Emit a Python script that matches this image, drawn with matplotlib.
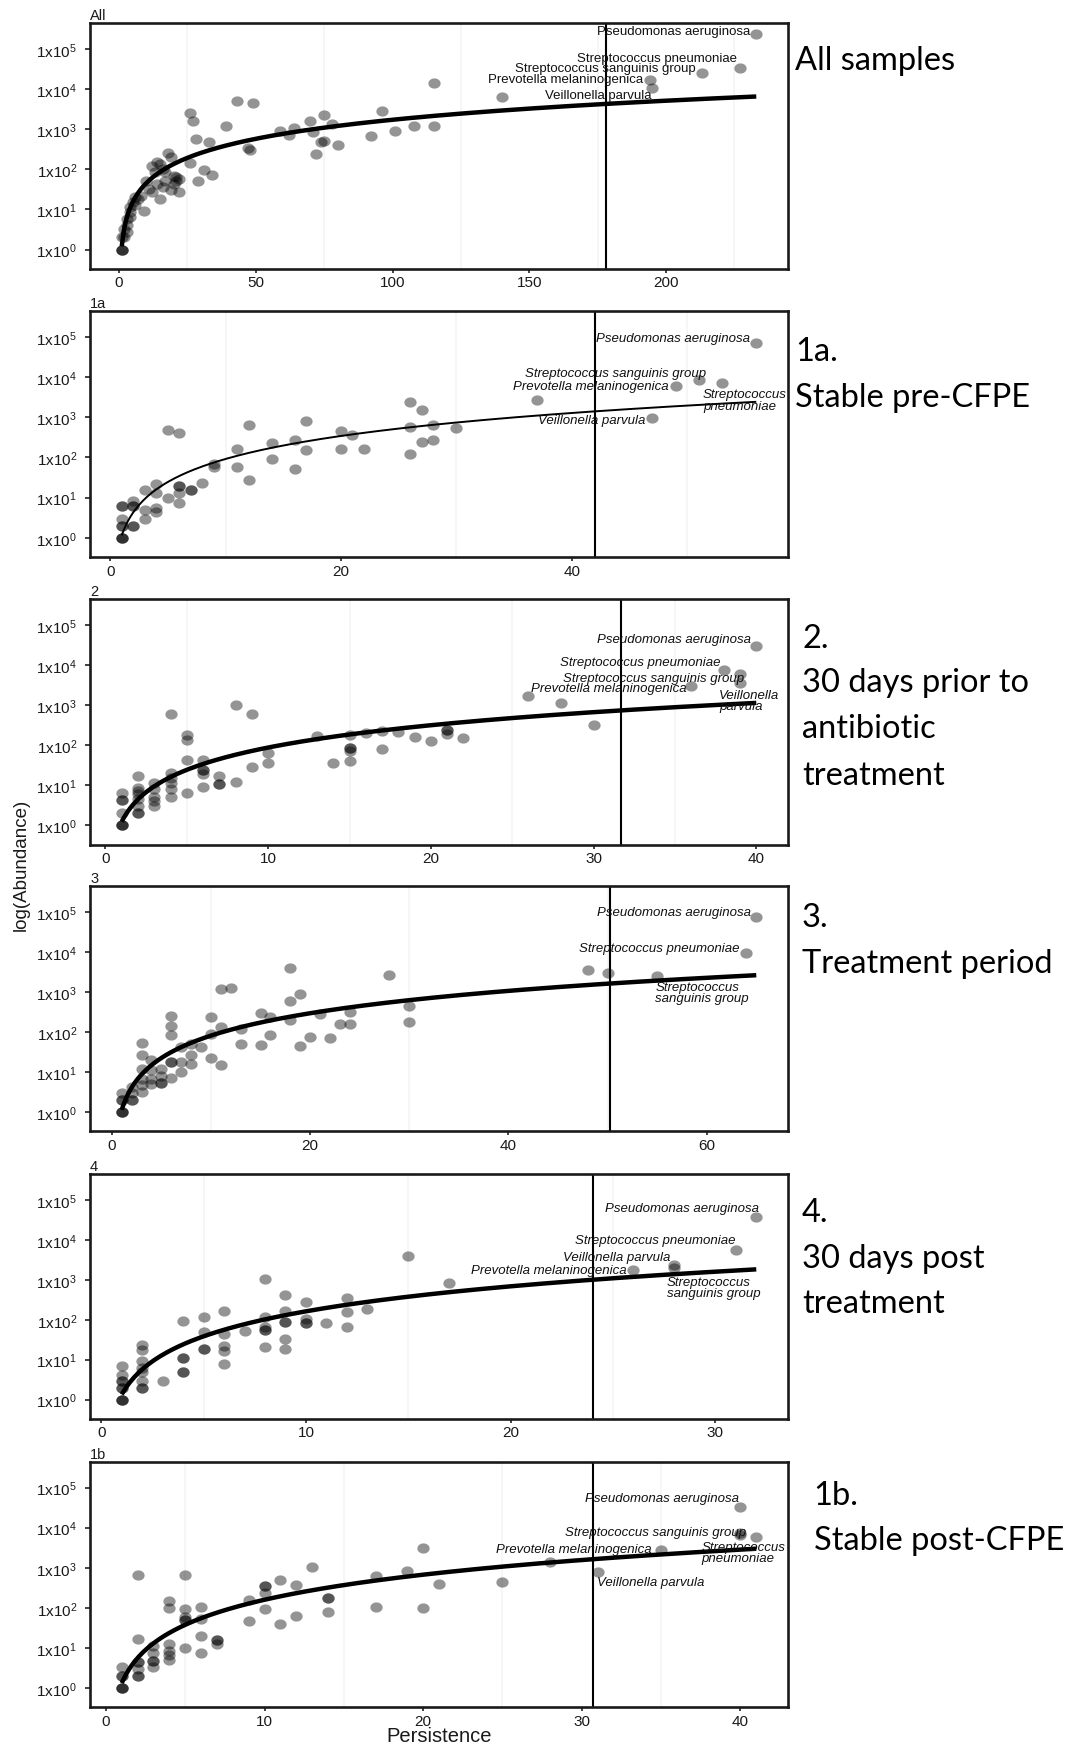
import numpy as np
import matplotlib
matplotlib.use("Agg")
import matplotlib.pyplot as plt
from matplotlib.path import Path
from matplotlib.ticker import FixedLocator, FuncFormatter, MultipleLocator, NullLocator

# persistence (x) vs abundance (y), one pair of lists per sampling period
all_x = [1, 1, 1, 1, 2, 2, 3, 3, 3, 4, 4, 4, 5, 6, 6, 7, 8, 9, 10, 11, 12, 12, 13, 14, 14, 15, 15,
         16, 16, 17, 17, 18, 19, 19, 20, 20, 21, 21, 22, 22, 26, 26, 27, 28, 29, 31, 33, 34, 39, 43,
         47, 48, 49, 59, 62, 64, 70, 71, 72, 74, 75, 75, 78, 80, 92, 96, 101, 108, 115, 115, 140,
         194, 195, 213, 227, 233]
all_y = [1, 1, 1, 2, 3.3, 2, 5.8, 4, 2.7, 8.5, 6.4, 11.4, 15, 12.6, 20, 18, 22, 9.4, 52, 33, 27, 124,
         85, 43, 150, 18, 135, 36, 102, 85, 52, 260, 31, 210, 70, 43, 50, 63, 58, 28, 2500, 145, 1600,
         580, 50, 99, 475, 73, 1200, 5200, 345, 300, 4500, 930, 720, 1070, 1650, 870, 245, 475, 2300,
         525, 1360, 415, 700, 2950, 930, 1200, 14000, 1200, 6300, 17000, 10500, 25500, 35000, 247000]

p1a_x = [1, 1, 1, 1, 1, 1, 1, 1, 2, 2, 2, 2, 2, 3, 3, 3, 4, 4, 4, 4, 5, 5, 6, 6, 6, 6, 6, 7, 7, 8,
         9, 9, 11, 11, 12, 12, 14, 14, 16, 16, 17, 17, 20, 20, 21, 22, 26, 26, 26, 27, 27, 28, 28,
         30, 37, 47, 49, 51, 53, 56]
p1a_y = [1, 1, 1, 2, 2, 3, 6, 6, 2, 2, 6, 6, 8, 3, 5, 15, 4.4, 5.6, 13, 22, 10, 475, 7.5, 13, 19.5,
         19.5, 400, 15.5, 15.5, 23, 56, 67, 56, 166, 28, 630, 90, 225, 52, 275, 150, 795, 160, 455,
         355, 166, 120, 575, 2400, 235, 1520, 275, 630, 535, 2650, 930, 5850, 8500, 7100, 69000]

p2_x = [1, 1, 1, 1, 1, 1, 1, 2, 2, 2, 2, 2, 2, 2, 2, 3, 3, 3, 3, 3, 4, 4, 4, 4, 4, 4, 5, 5, 5, 5,
        6, 6, 6, 6, 6, 7, 7, 7, 8, 8, 9, 9, 10, 10, 13, 14, 15, 15, 15, 15, 15, 16, 17, 17, 18, 19,
        20, 21, 21, 21, 22, 26, 28, 30, 36, 38, 39, 39, 40]
p2_y = [1, 1, 1, 2, 4.2, 4.2, 6.2, 2, 2, 3, 4.6, 5.9, 7, 8.5, 17, 3, 4, 5.2, 7.8, 11.5, 5.2, 7.8,
        11.5, 15, 20, 605, 6.2, 43, 136, 175, 9, 19, 24, 24, 43, 10.8, 10.8, 17, 12, 980, 28, 585,
        35, 63, 165, 35, 41, 73, 85, 85, 175, 205, 80, 225, 208, 160, 124, 190, 240, 240, 151, 1700,
        1120, 325, 2950, 7600, 3530, 5800, 29000]

p3_x = [1, 1, 1, 1, 1, 1, 2, 2, 2, 2, 3, 3, 3, 3, 3, 3, 4, 4, 4, 4, 5, 5, 5, 5, 6, 6, 6, 6, 6, 6,
        7, 7, 7, 8, 8, 8, 9, 10, 10, 10, 11, 11, 11, 12, 13, 13, 15, 15, 16, 16, 18, 18, 18, 19, 19,
        20, 21, 22, 23, 24, 24, 28, 30, 30, 48, 50, 55, 64, 65]
p3_y = [1, 1, 1, 2, 2, 3, 2, 2, 2.9, 4.2, 3.2, 4.6, 6.8, 12, 27, 52, 5.1, 6.8, 11, 19.5, 5.4, 5.4,
        8, 12, 7, 18, 18, 85, 145, 245, 10, 18, 43, 16, 26, 50, 42, 22.5, 90, 240, 15, 132, 1180,
        1260, 49, 120, 46, 295, 85, 235, 195, 595, 4100, 45, 890, 77, 280, 70, 160, 160, 310, 2700,
        180, 440, 3600, 2970, 2550, 9750, 76000]

p4_x = [1, 1, 1, 1, 1, 1, 1, 1, 1, 2, 2, 2, 2, 2, 2, 2, 2, 3, 4, 4, 4, 4, 4, 5, 5, 5, 5, 6, 6, 6,
        6, 6, 7, 8, 8, 8, 8, 8, 8, 9, 9, 9, 9, 9, 9, 10, 10, 10, 10, 11, 12, 12, 12, 13, 15, 17, 26,
        28, 28, 31, 32]
p4_y = [1, 1, 1, 2, 2, 3, 3, 4.1, 7, 2, 2, 3, 4.9, 6.2, 9.5, 17, 23, 3, 5, 5, 11, 11, 95, 18, 18,
        49, 120, 8, 16, 22, 43, 170, 51, 21, 56, 56, 65, 120, 1020, 19, 33, 90, 90, 170, 415, 83, 83,
        105, 283, 83, 65, 160, 345, 186, 3850, 830, 1740, 1950, 2350, 5600, 38000]

p1b_x = [1, 1, 1, 1, 1, 1, 2, 2, 2, 2, 2, 2, 2, 3, 3, 3, 3, 3, 4, 4, 4, 4, 4, 4, 5, 5, 5, 5, 5, 5,
         6, 6, 6, 6, 7, 7, 7, 9, 9, 10, 10, 10, 10, 11, 11, 12, 12, 13, 14, 14, 14, 17, 17, 19, 20,
         20, 21, 25, 28, 31, 35, 40, 40, 40, 41]
p1b_y = [1, 1, 1, 2, 2, 3.3, 2, 2, 3, 4.4, 4.4, 16.6, 670, 3.3, 4.8, 4.8, 7.4, 11.4, 5, 6.5, 8.5,
         12.6, 97, 150, 10, 50, 50, 58, 93, 670, 7.3, 19.5, 53, 102, 12.5, 16, 16, 46, 160, 93, 230,
         355, 355, 40, 490, 63, 370, 1040, 80, 173, 173, 102, 620, 830, 100, 3030, 390, 435, 1360,
         760, 2750, 6500, 7300, 32000, 5700]

# power-law fits: log10(y) = a + b * log10(x)
all_fit = (0.08, 1.58)
p1a_fit = (0.06, 1.90)
p2_fit = (0.09, 1.85)
p3_fit = (0.05, 1.86)
p4_fit = (0.13, 2.08)
p1b_fit = (0.12, 2.08)

# persistence cut-off (vertical line)
cutoffs = [178.1, 42.0, 31.7, 50.2, 24.0, 30.7]

PA = "Pseudomonas aeruginosa"
SP = "Streptococcus pneumoniae"
SS = "Streptococcus sanguinis group"
PM = "Prevotella melaninogenica"
VP = "Veillonella parvula"

plt.rcParams["font.family"] = ["Liberation Sans", "DejaVu Sans"]
plt.rcParams["mathtext.fontset"] = "custom"
plt.rcParams["mathtext.rm"] = "Liberation Sans"

W, H = 1080, 1749
fig = plt.figure(figsize=(W / 100, H / 100), dpi=100)

# dots in the source are a bit wider than tall
t = np.linspace(0, 2 * np.pi, 50)
dot = Path(np.column_stack([1.2 * np.cos(t), np.sin(t)]), closed=True)

# label placement in axes fraction: (name, u, v, ha, two_lines)
panels = [
    dict(title="All", x=all_x, y=all_y, fit=all_fit, step=50, lw=3.2, box=(24.3, 270), italic=False,
         labels=[(PA, 0.946, 0.970, "right", False), (SP, 0.927, 0.859, "right", False),
                 (SS, 0.867, 0.818, "right", False), (PM, 0.792, 0.773, "right", False),
                 (VP, 0.804, 0.709, "right", False)]),
    dict(title="1a", x=p1a_x, y=p1a_y, fit=p1a_fit, step=20, lw=1.4, box=(311.7, 558.3), italic=True,
         labels=[(PA, 0.946, 0.888, "right", False), (SS, 0.883, 0.746, "right", False),
                 (PM, 0.829, 0.696, "right", False), (SP, 0.878, 0.638, "left", True),
                 (VP, 0.796, 0.557, "right", False)]),
    dict(title="2", x=p2_x, y=p2_y, fit=p2_fit, step=10, lw=3.2, box=(600, 845.7), italic=True,
         labels=[(PA, 0.947, 0.837, "right", False), (SP, 0.904, 0.742, "right", False),
                 (SS, 0.937, 0.677, "right", False), (PM, 0.855, 0.638, "right", False),
                 (VP, 0.901, 0.586, "left", True)]),
    dict(title="3", x=p3_x, y=p3_y, fit=p3_fit, step=20, lw=3.2, box=(887.3, 1132.3), italic=True,
         labels=[(PA, 0.947, 0.896, "right", False), (SP, 0.931, 0.747, "right", False),
                 (SS, 0.810, 0.566, "left", True)]),
    dict(title="4", x=p4_x, y=p4_y, fit=p4_fit, step=10, lw=3.2, box=(1175, 1420), italic=True,
         labels=[(PA, 0.958, 0.861, "right", False), (SP, 0.925, 0.729, "right", False),
                 (VP, 0.831, 0.661, "right", False), (PM, 0.769, 0.609, "right", False),
                 (SS, 0.826, 0.537, "left", True)]),
    dict(title="1b", x=p1b_x, y=p1b_y, fit=p1b_fit, step=10, lw=3.2, box=(1462.7, 1708.3), italic=True,
         labels=[(PA, 0.930, 0.851, "right", False), (SS, 0.940, 0.715, "right", False),
                 (PM, 0.805, 0.645, "right", False), (SP, 0.876, 0.631, "left", True),
                 (VP, 0.727, 0.511, "left", False)]),
]


def sci(v, pos):
    return r"$\mathregular{1x10^{%d}}$" % round(np.log10(v))


for p, cut in zip(panels, cutoffs):
    top, bottom = p["box"]
    ax = fig.add_axes([90 / W, 1 - bottom / H, 698 / W, (bottom - top) / H])
    x = np.array(p["x"], dtype=float)
    y = np.array(p["y"], dtype=float)

    span = x.max() - x.min()
    ax.set_xlim(x.min() - 0.05 * span, x.max() + 0.05 * span)
    ax.set_yscale("log")
    ax.set_ylim(10 ** -0.486, 10 ** 5.648)

    ax.scatter(x, y, s=78, marker=dot, c="black", alpha=0.42, linewidths=0, zorder=2)
    a, b = p["fit"]
    xs = np.linspace(1, x.max(), 300)
    ax.plot(xs, 10 ** (a + b * np.log10(xs)), color="black", lw=p["lw"], zorder=3,
            solid_capstyle="butt")
    ax.axvline(cut, color="black", lw=1.5, zorder=2.5)

    ax.xaxis.set_major_locator(MultipleLocator(p["step"]))
    ax.xaxis.set_minor_locator(MultipleLocator(p["step"], offset=p["step"] / 2))
    ax.grid(which="minor", axis="x", color="#f6f6f6", lw=1.3)
    ax.set_axisbelow(True)
    ax.yaxis.set_major_locator(FixedLocator([10.0 ** k for k in range(6)]))
    ax.yaxis.set_major_formatter(FuncFormatter(sci))
    ax.yaxis.set_minor_locator(NullLocator())

    for s in ax.spines.values():
        s.set_linewidth(1.9)
        s.set_color("#1a1a1a")
    ax.tick_params(which="minor", length=0)
    ax.tick_params(axis="x", which="major", length=3, width=1.3, pad=1.5, labelsize=11,
                   color="#333333", labelcolor="#1a1a1a")
    ax.tick_params(axis="y", which="major", length=3.3, width=1.3, pad=6, labelsize=11,
                   color="#333333", labelcolor="#1a1a1a")

    ax.annotate(p["title"], xy=(0, 1), xycoords="axes fraction", xytext=(0, 3),
                textcoords="offset points", ha="left", va="baseline", fontsize=10.5,
                color="#1a1a1a")

    for name, u, v, ha, wrap in p["labels"]:
        txt = name.replace(" ", "\n", 1) if wrap else name
        ax.text(u, v, txt, transform=ax.transAxes, ha=ha, va="center", fontsize=9.5,
                style="italic" if p["italic"] else "normal", linespacing=0.95,
                multialignment="left", color="#111111", zorder=4)

fig.text(21.5 / W, 1 - 865 / H, "log(Abundance)", rotation=90, ha="center", va="center",
         fontsize=13.5, color="#1a1a1a")
fig.text(439 / W, 1 - 1737 / H, "Persistence", ha="center", va="center", fontsize=14.5,
         color="#1a1a1a")

# period descriptions to the right of each panel (left x, baseline y in pixels)
side_text = [
    ("All samples", 795, 70),
    ("1a.", 795, 360.7), ("Stable pre-CFPE", 795, 406.7),
    ("2.", 802, 648.3), ("30 days prior to", 802, 691.7), ("antibiotic", 802, 738.3),
    ("treatment", 802, 785),
    ("3.", 802, 926.7), ("Treatment period", 802, 973.3),
    ("4.", 802, 1221.7), ("30 days post", 802, 1268.3), ("treatment", 802, 1313.3),
    ("1b.", 813.5, 1505), ("Stable post-CFPE", 813.5, 1550),
]
for txt, px, py in side_text:
    fig.text(px / W, 1 - py / H, txt, ha="left", va="baseline", fontsize=23.5,
             family=["Lato", "DejaVu Sans"], color="black")

fig.savefig("out.png", dpi=100)
